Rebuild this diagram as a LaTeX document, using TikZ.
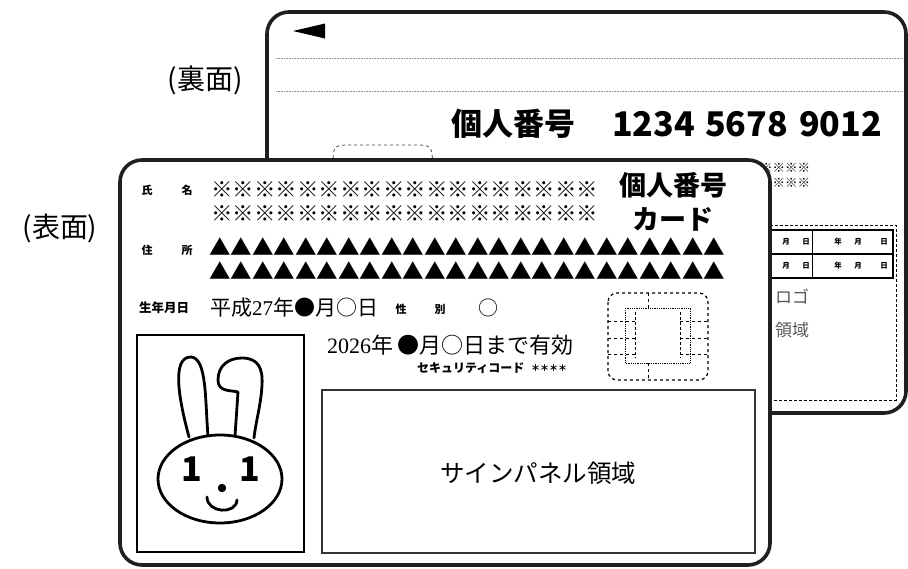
\documentclass[tikz,border=0pt]{standalone}
\usepackage{fontspec}
\setmainfont{Noto Sans CJK JP}
\newfontfamily\minchodigits{Liberation Serif}
\newcommand\setsz[1]{\fontsize{#1}{#1}\selectfont}
\begin{document}
\begin{tikzpicture}[x=1pt,y=-1pt,
  card/.style={draw=black!88, line width=3.6pt, fill=white, rounded corners=22pt},
  txt/.style={inner sep=0pt, outer sep=0pt},
  lbl/.style={txt, font=\bfseries\setsz{11}},
  tiny/.style={txt, font=\bfseries\setsz{7.5}},
  faint/.style={draw=black!45, densely dotted, line width=0.6pt},
  stroke/.style={line width=2.8pt, line cap=round, line join=round}]
\useasboundingbox (0,0) rectangle (908,568);

% ---------------- back side ----------------
\draw[card] (267,12) rectangle (906,413);
\fill (293,31) -- (325,23.5) -- (325,38.5) -- cycle;
\draw[faint] (276,58) -- (903,58);
\draw[faint] (276,91) -- (903,91);
\node[txt, anchor=west, font=\bfseries\setsz{31}] (bnumlabel) at (451,124) {個人番号};
\node[txt, anchor=west, font=\bfseries\setsz{34}] (bnumA) at (612,124) {1234};
\node[txt, anchor=west, font=\bfseries\setsz{34}] (bnumB) at (705,124) {5678};
\node[txt, anchor=west, font=\bfseries\setsz{34}] (bnumC) at (799,124) {9012};
\node[txt, anchor=east, font=\bfseries\setsz{12.5}] (bmarkA) at (810,168) {※※※※※※};
\node[txt, anchor=east, font=\bfseries\setsz{12.5}] (bmarkB) at (810,183) {※※※※※※};
% entry table
\draw[densely dashed, line width=0.8pt] (760,225) -- (896,225) -- (896,400) -- (760,400);
\draw[line width=1.3pt] (760,230) rectangle (893,278);
\draw[line width=1.3pt] (760,254) -- (893,254);
\draw[line width=1pt] (812,230) -- (812,278);
\foreach \r/\yy in {1/242,2/266}{
  \node[tiny] (tm\r) at (786,\yy) {月};
  \node[tiny] (td\r) at (806,\yy) {日};
  \node[tiny] (ty\r) at (838,\yy) {年};
  \node[tiny] (tmm\r) at (858,\yy) {月};
  \node[tiny] (tdd\r) at (884,\yy) {日};
}
\node[txt, anchor=west, font=\setsz{17}, text=black!65] (logoA) at (775,297) {ロゴ};
\node[txt, anchor=west, font=\setsz{17}, text=black!65] (logoB) at (775,330) {領域};
\draw[dashed, line width=0.8pt, black!70] (333,170) .. controls (333,146) .. (346,145) -- (420,145) .. controls (432,146) .. (433,170);

% ---------------- front side ----------------
\draw[card] (120,160) rectangle (770,565);
\node[lbl] (shi) at (147,190) {氏};
\node[lbl] (mei) at (187,190) {名};
\node[txt, anchor=west, font=\bfseries\setsz{21.5}] (nameA) at (211,190) {※※※※※※※※※※※※※※※※※※};
\node[txt, anchor=west, font=\bfseries\setsz{21.5}] (nameB) at (211,214) {※※※※※※※※※※※※※※※※※※};
\node[lbl] (ju) at (147,250) {住};
\node[lbl] (sho) at (187,250) {所};
\node[txt, anchor=west, font=\setsz{21.5}] (addrA) at (209,247) {▲▲▲▲▲▲▲▲▲▲▲▲▲▲▲▲▲▲▲▲▲▲▲▲};
\node[txt, anchor=west, font=\setsz{21.5}] (addrB) at (209,271) {▲▲▲▲▲▲▲▲▲▲▲▲▲▲▲▲▲▲▲▲▲▲▲▲};
\node[txt, font=\bfseries\setsz{27}] (ftitleA) at (673,185) {個人番号};
\node[txt, font=\bfseries\setsz{27}] (ftitleB) at (673,219) {カード};

\node[txt, anchor=west, font=\bfseries\setsz{12.5}] (birthlbl) at (139,308) {生年月日};
\node[txt, anchor=west, font=\setsz{21}] (birth) at (210,308) {平成{\minchodigits 27}年●月○日};
\node[lbl] (sei) at (401,309) {性};
\node[lbl] (betsu) at (440,309) {別};
\node[txt, font=\setsz{20}] (sex) at (488,308) {○};
\node[txt, anchor=west, font=\setsz{22}] (expiry) at (327,345) {{\minchodigits 2026}年\hspace{5pt}●月○日まで有効};
\node[txt, anchor=west, font=\bfseries\setsz{12}] (seclbl) at (417,368) {セキュリティコード};
\node[txt, anchor=west, font=\bfseries\setsz{9}] (secval) at (531,368) {＊＊＊＊};

% IC chip outline
\draw[dashed, line width=1.2pt, rounded corners=9pt] (608,293) rectangle (708,380);
\draw[densely dotted, line width=0.8pt] (625,308) rectangle (690,363);
\draw[dashed, line width=1pt] (648,293) -- (648,308) (648,363) -- (648,380);
\draw[dashed, line width=1pt] (608,321) -- (635,321) (608,338) -- (635,338) (608,354) -- (635,354)
  (680,321) -- (708,321) (680,338) -- (708,338) (680,354) -- (708,354);
\draw[densely dashed, line width=0.8pt] (635,312) -- (635,358) (680,312) -- (680,358);

% photo
\draw[line width=1.6pt] (137,335) rectangle (304,552);
\draw[stroke] (220,479) ellipse [x radius=62, y radius=44];
\draw[stroke] (189,437) .. controls (179,400) and (171,357) .. (191,357) .. controls (207,358) and (205,400) .. (208,436);
\draw[stroke] (235,436) -- (238,392) .. controls (230,390) and (218,392) .. (218,380)
  .. controls (218,366) and (228,358) .. (242,358) .. controls (258,358) and (263,368) .. (262,385)
  .. controls (261,405) and (256,420) .. (254,438);
\node[txt, font=\bfseries\setsz{34}] (eyeL) at (192,469) {1};
\node[txt, font=\bfseries\setsz{34}] (eyeR) at (250,469) {1};
\fill (222,488) circle (4.2);
\draw[stroke] (207,497) .. controls (207,513) and (236,515) .. (237,500);

% signature panel
\draw[line width=1.2pt, black!80] (322,390) rectangle (755,553);
\node[txt, font=\setsz{24.5}] (signlbl) at (538,473) {サインパネル領域};

% side labels
\node[txt, font=\setsz{28}] (backlbl) at (205,80) {(裏面)};
\node[txt, font=\setsz{28}] (frontlbl) at (60,228) {(表面)};
\end{tikzpicture}
\end{document}
